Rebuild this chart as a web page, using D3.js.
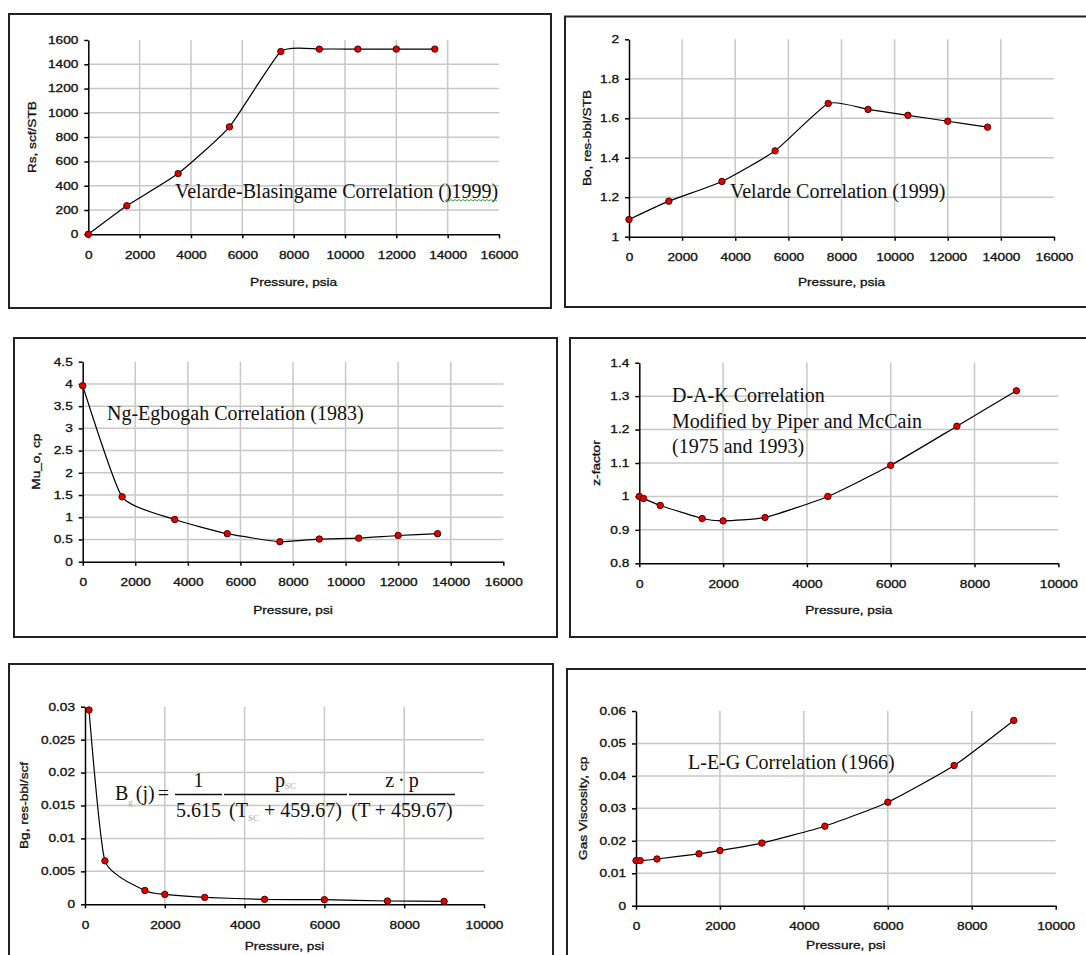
<!DOCTYPE html>
<html lang="en">
<head>
<meta charset="UTF-8">
<title>PVT correlations</title>
<script src="https://cdn.jsdelivr.net/npm/d3@7"></script>
<style>
  body { margin: 0; background: #fff; }
  svg { display: block; background: #fff; }
  .tick text, .axis-title { font-family: "Liberation Sans", Arial, sans-serif; font-size: 10.5px; fill: #111; stroke: #111; stroke-width: 0.3; }
  .note, .formula { font-family: "Liberation Serif", "Times New Roman", serif; font-size: 20px; fill: #111; }
  .grid line { stroke: #c8c8c8; stroke-width: 1.5; }
  .frame { fill: none; stroke: #222; stroke-width: 2; }
  .axis path, .axis line { stroke: #000; stroke-width: 1.5; }
</style>
</head>
<body>
<svg id="chart" width="1086" height="955"></svg>
<script>
// --- values ---
// oil side (Rs, Bo, mu_o) share the same pressures
var pOil  = [0, 1500, 3500, 5500, 7500, 9000, 10500, 12000, 13500];
var rs    = [0, 235, 500, 885, 1505, 1525, 1525, 1525, 1525];
var bo    = [1.087, 1.18, 1.28, 1.435, 1.675, 1.645, 1.615, 1.585, 1.555];
var muO   = [3.96, 1.46, 0.95, 0.63, 0.45, 0.51, 0.53, 0.59, 0.63];

// gas side (z, Bg, mu_g)
var pGas  = [0, 100, 500, 1500, 2000, 3000, 4500, 6000, 7580, 9000];
var zFac  = [1.0, 0.994, 0.973, 0.934, 0.927, 0.937, 1.0, 1.093, 1.21, 1.316];
var pBg   = [100, 500, 1500, 2000, 3000, 4500, 6000, 7580, 9000];
var bg    = [0.0295, 0.0066, 0.0021, 0.0015, 0.00105, 0.00075, 0.0007, 0.0005, 0.00045];
var muG   = [0.0139, 0.0139, 0.0144, 0.016, 0.017, 0.0193, 0.0245, 0.0319, 0.0432, 0.0571];

// tick values
var xTicks16 = [0, 2000, 4000, 6000, 8000, 10000, 12000, 14000, 16000];
var xTicks10 = [0, 2000, 4000, 6000, 8000, 10000];
var rsTicks  = [0, 200, 400, 600, 800, 1000, 1200, 1400, 1600];
var boTicks  = [1, 1.2, 1.4, 1.6, 1.8, 2];
var muOTicks = [0, 0.5, 1, 1.5, 2, 2.5, 3, 3.5, 4, 4.5];
var zTicks   = [0.8, 0.9, 1, 1.1, 1.2, 1.3, 1.4];
var bgTicks  = [0, 0.005, 0.01, 0.015, 0.02, 0.025, 0.03];
var muGTicks = [0, 0.01, 0.02, 0.03, 0.04, 0.05, 0.06];

var STRETCH = 1.3; // the original labels are drawn wide

var panels = [
  { frame: [9, 14, 551, 308], plot: [88.3, 40, 499, 234.3],
    px: pOil, py: rs, xt: xTicks16, yt: rsTicks,
    xTitle: "Pressure, psia", yTitle: "Rs, scf/STB", xOff: 48, yOff: 56,
    notes: [{ text: "Velarde-Blasingame Correlation ()1999)", x: 175, y: 198, squiggle: 32 }] },
  { frame: [565, 16.5, 1100, 307], plot: [629, 39.3, 1054, 236.7],
    px: pOil, py: bo, xt: xTicks16, yt: boTicks,
    xTitle: "Pressure, psia", yTitle: "Bo, res-bbl/STB", xOff: 46, yOff: 41,
    notes: [{ text: "Velarde Correlation (1999)", x: 730, y: 198 }] },
  { frame: [14, 338, 557, 637], plot: [82.7, 361.7, 503.3, 561.7],
    px: pOil, py: muO, xt: xTicks16, yt: muOTicks,
    xTitle: "Pressure, psi", yTitle: "Mu_o, cp", xOff: 49, yOff: 46,
    notes: [{ text: "Ng-Egbogah Correlation (1983)", x: 107, y: 420 }] },
  { frame: [570, 338, 1100, 637], plot: [639.3, 362.7, 1058.3, 563.3],
    px: pGas, py: zFac, xt: xTicks10, yt: zTicks,
    xTitle: "Pressure, psia", yTitle: "z-factor", xOff: 47, yOff: 43,
    notes: [{ text: "D-A-K Correlation", x: 672, y: 401.5 },
            { text: "Modified by Piper and McCain", x: 672, y: 427.5 },
            { text: "(1975 and 1993)", x: 672, y: 453 }] },
  { frame: [9, 664, 553, 980], plot: [85, 706.7, 484, 904.3],
    px: pBg, py: bg, xt: xTicks10, yt: bgTicks,
    xTitle: "Pressure, psi", yTitle: "Bg, res-bbl/scf", xOff: 42, yOff: 60,
    notes: [], formula: [115, 800] },
  { frame: [567, 669, 1100, 980], plot: [636, 711, 1055.7, 905.7],
    px: pGas, py: muG, xt: xTicks10, yt: muGTicks,
    xTitle: "Pressure, psi", yTitle: "Gas Viscosity, cp", xOff: 40, yOff: 52,
    notes: [{ text: "L-E-G Correlation (1966)", x: 688, y: 769 }] }
];

var svg = d3.select("#chart");
var fmt = function(d) { return String(+d.toFixed(4)); };

panels.forEach(function(p) {
  var g = svg.append("g");
  var f = p.frame;
  g.append("rect").attr("class", "frame")
    .attr("x", f[0]).attr("y", f[1]).attr("width", f[2] - f[0]).attr("height", f[3] - f[1]);

  var L = p.plot[0], T = p.plot[1], R = p.plot[2], B = p.plot[3];
  var x = d3.scaleLinear().domain([p.xt[0], p.xt[p.xt.length - 1]]).range([L, R]);
  var y = d3.scaleLinear().domain([p.yt[0], p.yt[p.yt.length - 1]]).range([B, T]);

  // gridlines, none on the first/last tick
  var grid = g.append("g").attr("class", "grid");
  grid.selectAll(".gx").data(p.xt.slice(1, -1)).enter().append("line")
    .attr("x1", function(d) { return x(d); }).attr("x2", function(d) { return x(d); })
    .attr("y1", y.range()[0]).attr("y2", y.range()[1]);
  grid.selectAll(".gy").data(p.yt.slice(1, -1)).enter().append("line")
    .attr("y1", function(d) { return y(d); }).attr("y2", function(d) { return y(d); })
    .attr("x1", x.range()[0]).attr("x2", x.range()[1]);

  var ax = g.append("g").attr("class", "axis").attr("transform", "translate(0," + B + ")")
    .call(d3.axisBottom(x).tickValues(p.xt).tickSize(4).tickSizeOuter(0).tickPadding(13).tickFormat(d3.format("d")));
  ax.selectAll("text").attr("transform", "scale(" + STRETCH + ",1)");

  var ay = g.append("g").attr("class", "axis").attr("transform", "translate(" + L + ",0)")
    .call(d3.axisLeft(y).tickValues(p.yt).tickSize(4).tickSizeOuter(0).tickPadding(6).tickFormat(fmt));
  ay.selectAll("text").attr("x", -10 / STRETCH).attr("transform", "scale(" + STRETCH + ",1)");
  g.selectAll(".axis .domain").attr("stroke", "#000");
  g.selectAll(".tick text").attr("font-family", null).attr("font-size", null);

  // axis titles
  g.append("text").attr("class", "axis-title")
    .attr("text-anchor", "middle").attr("dominant-baseline", "central")
    .attr("transform", "translate(" + (L + R) / 2 + "," + (B + p.xOff) + ") scale(" + STRETCH + ",1)")
    .text(p.xTitle);
  g.append("text").attr("class", "axis-title")
    .attr("text-anchor", "middle").attr("dominant-baseline", "central")
    .attr("transform", "translate(" + (L - p.yOff) + "," + (B + T) / 2 + ") rotate(-90) scale(" + STRETCH + ",1)")
    .text(p.yTitle);

  // smoothed series line + markers
  var pts = p.px.map(function(v, i) { return [v, p.py[i]]; });
  var line = d3.line()
    .x(function(d) { return x(d[0]); })
    .y(function(d) { return y(d[1]); })
    .curve(d3.curveCardinal.tension(0.5));
  g.append("path").datum(pts).attr("d", line)
    .attr("fill", "none").attr("stroke", "#000").attr("stroke-width", 1.2);
  g.selectAll(".pt").data(pts).enter().append("circle")
    .attr("cx", function(d) { return x(d[0]); })
    .attr("cy", function(d) { return y(d[1]); })
    .attr("r", 3.2).attr("fill", "#e00000").attr("stroke", "#500000").attr("stroke-width", 1);

  // correlation names
  p.notes.forEach(function(n) {
    var t = g.append("text").attr("class", "note").attr("x", n.x).attr("y", n.y).text(n.text);
    if (n.squiggle != null) {
      // green grammar squiggle under the tail of the label
      var node = t.node();
      var x0 = node.getStartPositionOfChar(n.squiggle).x;
      var x1 = node.getEndPositionOfChar(n.text.length - 1).x;
      var d = "M" + x0 + "," + (n.y + 3);
      for (var k = x0 + 2, up = true; k <= x1; k += 2, up = !up) d += "L" + k + "," + (n.y + (up ? 1.5 : 3));
      g.append("path").attr("d", d).attr("fill", "none").attr("stroke", "#3a9a3a").attr("stroke-width", 1);
    }
  });

  if (p.formula) drawFormula(g, p.formula[0], p.formula[1]);
});

function drawFormula(g, ox, oy) {
  var fg = g.append("g").attr("class", "formula");
  var t = fg.append("text").attr("x", ox).attr("y", oy);
  t.append("tspan").text("B");
  t.append("tspan").attr("font-size", 9).attr("fill", "#aaa").attr("dy", 5).text("g");
  t.append("tspan").attr("dy", -5).attr("dx", 3).text("(j)");
  t.append("tspan").attr("dx", 3).text("=");

  var fracs = [[60, 107], [109, 232], [234, 340]];
  fracs.forEach(function(b) {
    fg.append("line").attr("x1", ox + b[0]).attr("x2", ox + b[1])
      .attr("y1", oy - 5.5).attr("y2", oy - 5.5).attr("stroke", "#111").attr("stroke-width", 1.3);
  });
  var mid = fracs.map(function(b) { return ox + (b[0] + b[1]) / 2; });

  fg.append("text").attr("x", mid[0]).attr("y", oy - 13).attr("text-anchor", "middle").text("1");
  fg.append("text").attr("x", mid[0]).attr("y", oy + 16.5).attr("text-anchor", "middle").text("5.615");

  var n2 = fg.append("text").attr("x", mid[1]).attr("y", oy - 13).attr("text-anchor", "middle");
  n2.append("tspan").text("p");
  n2.append("tspan").attr("font-size", 9).attr("fill", "#aaa").attr("dy", 2).text("SC");
  var d2 = fg.append("text").attr("x", mid[1]).attr("y", oy + 16.5).attr("text-anchor", "middle");
  d2.append("tspan").text("(T");
  d2.append("tspan").attr("font-size", 9).attr("fill", "#aaa").attr("dy", 4).text("SC");
  d2.append("tspan").attr("dy", -4).text(" + 459.67)");

  fg.append("text").attr("x", mid[2]).attr("y", oy - 13).attr("text-anchor", "middle").text("z\u2009\u00b7\u2009p");
  fg.append("text").attr("x", mid[2]).attr("y", oy + 16.5).attr("text-anchor", "middle").text("(T + 459.67)");
}
</script>
</body>
</html>
